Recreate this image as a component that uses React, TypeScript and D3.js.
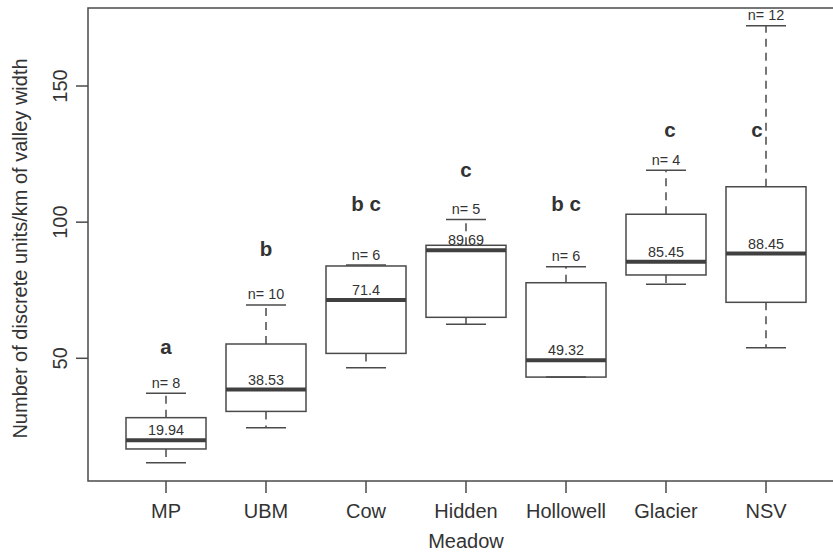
import React from "react";
import * as d3 from "d3";

// boxplot stats
const categories = ["MP", "UBM", "Cow", "Hidden", "Hollowell", "Glacier", "NSV"];
const lowerWhisker = [11.6, 24.5, 46.5, 62.5, 43.1, 77.2, 53.9];
const q1 = [16.7, 30.5, 51.8, 65.05, 43.1, 80.6, 70.56];
const medians = [19.94, 38.53, 71.4, 89.69, 49.32, 85.45, 88.45];
const q3 = [28.2, 55.25, 83.9, 91.5, 77.75, 102.9, 113.0];
const upperWhisker = [37.15, 69.6, 84.25, 101.0, 83.6, 119.1, 172.1];
const counts = [8, 10, 6, 5, 6, 4, 12];
const groupLetters = ["a", "b", "b c", "c", "b c", "c", "c"];
// where the letters sit (group index, value)
const letterX = [1, 2, 3, 4, 5, 6.04, 6.91];
const letterY = [54.3, 90.1, 106.9, 119.1, 106.9, 133.8, 133.8];
const yTicks = [50, 100, 150];

const width = 833;
const height = 553;
const font = "'Liberation Sans', Arial, sans-serif";
const lineColor = "#4a4a4a";
const textColor = "#333";

export default function App() {
  const frame = { left: 88, top: 8, bottom: 481, right: 844 };

  const xScale = d3
    .scaleLinear()
    .domain([0.22, 7.78])
    .range([frame.left, frame.right]);

  const yScale = d3.scaleLinear().domain([50, 150]).range([358.3, 86]);

  const boxW = 0.8 * (xScale(1) - xScale(0));
  const capW = boxW / 2;

  return (
    <svg
      width={width}
      height={height}
      style={{ position: "absolute", left: 0, top: 0, background: "#fff" }}
      fontFamily={font}
    >
      {/* frame */}
      <rect
        x={frame.left}
        y={frame.top}
        width={frame.right - frame.left}
        height={frame.bottom - frame.top}
        fill="none"
        stroke={lineColor}
        strokeWidth={1.5}
      />

      {/* y axis */}
      {yTicks.map((t) => (
        <g key={t}>
          <line
            x1={frame.left}
            x2={frame.left - 12}
            y1={yScale(t)}
            y2={yScale(t)}
            stroke={lineColor}
            strokeWidth={1.5}
          />
          <text
            transform={`translate(60,${yScale(t)}) rotate(-90)`}
            textAnchor="middle"
            dy="0.35em"
            fontSize={20}
            fill={textColor}
          >
            {t}
          </text>
        </g>
      ))}
      <text
        transform={`translate(20,${(frame.top + frame.bottom) / 2 + 4}) rotate(-90)`}
        textAnchor="middle"
        dy="0.35em"
        fontSize={20}
        fill={textColor}
      >
        Number of discrete units/km of valley width
      </text>

      {/* x axis */}
      {categories.map((c, i) => (
        <g key={c}>
          <line
            x1={xScale(i + 1)}
            x2={xScale(i + 1)}
            y1={frame.bottom}
            y2={frame.bottom + 12}
            stroke={lineColor}
            strokeWidth={1.5}
          />
          <text
            x={xScale(i + 1)}
            y={511}
            dy="0.35em"
            textAnchor="middle"
            fontSize={20}
            fill={textColor}
          >
            {c}
          </text>
        </g>
      ))}
      <text
        x={(frame.left + frame.right) / 2}
        y={541}
        dy="0.35em"
        textAnchor="middle"
        fontSize={20}
        fill={textColor}
      >
        Meadow
      </text>

      {/* boxes */}
      {categories.map((c, i) => {
        const cx = xScale(i + 1);
        return (
          <g key={c}>
            <rect
              x={cx - boxW / 2}
              y={yScale(q3[i])}
              width={boxW}
              height={yScale(q1[i]) - yScale(q3[i])}
              fill="#fff"
              stroke={lineColor}
              strokeWidth={1.5}
            />
            <line
              x1={cx - boxW / 2}
              x2={cx + boxW / 2}
              y1={yScale(medians[i])}
              y2={yScale(medians[i])}
              stroke="#404040"
              strokeWidth={4}
            />
            <text
              x={cx}
              y={yScale(medians[i]) - 10}
              dy="0.35em"
              textAnchor="middle"
              fontSize={14.4}
              fill={textColor}
            >
              {String(medians[i])}
            </text>
            <text
              x={cx}
              y={yScale(upperWhisker[i]) - 10.5}
              dy="0.35em"
              textAnchor="middle"
              fontSize={14.4}
              fill={textColor}
            >
              {`n= ${counts[i]}`}
            </text>
            <text
              x={xScale(letterX[i])}
              y={yScale(letterY[i])}
              dy="0.35em"
              textAnchor="middle"
              fontSize={20.5}
              fontWeight="bold"
              fill={textColor}
            >
              {groupLetters[i]}
            </text>
            {/* whiskers (dashed, drawn from the hinge outwards) */}
            <line
              x1={cx}
              x2={cx}
              y1={yScale(q3[i])}
              y2={yScale(upperWhisker[i])}
              stroke={lineColor}
              strokeWidth={1.5}
              strokeDasharray="8,6"
            />
            <line
              x1={cx}
              x2={cx}
              y1={yScale(q1[i])}
              y2={yScale(lowerWhisker[i])}
              stroke={lineColor}
              strokeWidth={1.5}
              strokeDasharray="8,6"
            />
            <line
              x1={cx - capW / 2}
              x2={cx + capW / 2}
              y1={yScale(upperWhisker[i])}
              y2={yScale(upperWhisker[i])}
              stroke={lineColor}
              strokeWidth={1.5}
            />
            <line
              x1={cx - capW / 2}
              x2={cx + capW / 2}
              y1={yScale(lowerWhisker[i])}
              y2={yScale(lowerWhisker[i])}
              stroke={lineColor}
              strokeWidth={1.5}
            />
          </g>
        );
      })}
    </svg>
  );
}
